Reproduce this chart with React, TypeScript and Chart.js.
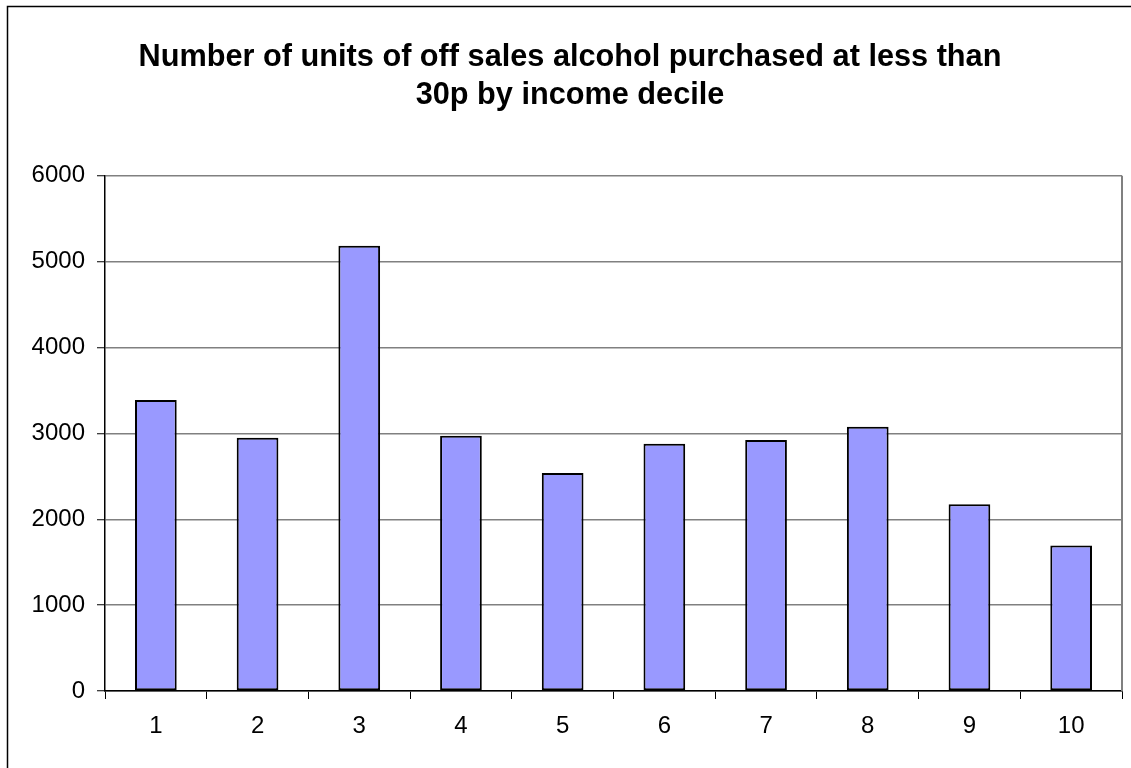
import React, { useEffect, useRef } from "react";
import { Chart, registerables } from "chart.js";

Chart.register(...registerables);

const categories = ["1", "2", "3", "4", "5", "6", "7", "8", "9", "10"];
const units = [3390, 2948, 5185, 2971, 2540, 2878, 2924, 3076, 2175, 1693];
const yTicks = [0, 1000, 2000, 3000, 4000, 5000, 6000];
const titleLines = [
  "Number of units of off sales alcohol purchased at less than",
  "30p by income decile",
];

const FONT = "'Liberation Sans', Arial, Helvetica, sans-serif";

const framePlugin = {
  id: "frame",
  beforeDraw(chart: any) {
    const { ctx } = chart;
    ctx.save();
    ctx.fillStyle = "#ffffff";
    ctx.fillRect(0, 0, chart.width, chart.height);
    ctx.strokeStyle = "#000000";
    ctx.lineWidth = 1.5;
    ctx.strokeRect(7.5, 6.5, chart.width + 20, chart.height + 20);
    ctx.restore();
  },
  afterDatasetsDraw(chart: any) {
    const { ctx, chartArea } = chart;
    ctx.save();
    ctx.strokeStyle = "#808080";
    ctx.lineWidth = 2;
    ctx.beginPath();
    ctx.moveTo(chartArea.right, chartArea.top);
    ctx.lineTo(chartArea.right, chartArea.bottom);
    ctx.stroke();
    ctx.restore();
  },
};

export default function App() {
  const ref = useRef<HTMLCanvasElement | null>(null);

  useEffect(() => {
    if (!ref.current) return;
    const chart = new Chart(ref.current, {
      type: "bar",
      data: {
        labels: categories,
        datasets: [
          {
            data: units,
            backgroundColor: "#9999FF",
            borderColor: "#000000",
            borderWidth: 2,
            borderSkipped: false,
            barPercentage: 0.41,
            categoryPercentage: 1,
          },
        ],
      },
      options: {
        animation: false,
        responsive: false,
        maintainAspectRatio: false,
        layout: { padding: { left: 18, right: 9, top: 0, bottom: 0 } },
        plugins: {
          legend: { display: false },
          tooltip: { enabled: false },
          title: {
            display: true,
            text: titleLines,
            color: "#000000",
            font: { family: FONT, size: 30.7, weight: "bold", lineHeight: 1.25 },
            padding: { top: 38, bottom: 61 },
          },
        },
        scales: {
          x: {
            offset: true,
            grid: {
              offset: true,
              drawOnChartArea: false,
              drawTicks: true,
              tickLength: 8,
              tickColor: "#000000",
              tickWidth: 1,
            },
            border: { display: true, color: "#000000", width: 1.5 },
            ticks: {
              color: "#000000",
              font: { family: FONT, size: 24 },
              padding: 13,
              maxRotation: 0,
            },
            afterFit: (scale: any) => {
              scale.height = 77;
            },
          },
          y: {
            min: 0,
            max: 6000,
            afterBuildTicks: (scale: any) => {
              scale.ticks = yTicks.map((v) => ({ value: v }));
            },
            grid: {
              color: "#808080",
              lineWidth: 1.5,
              drawTicks: true,
              tickLength: 8,
              tickColor: "#000000",
              tickWidth: 1,
            },
            border: { display: true, color: "#000000", width: 1.5 },
            ticks: {
              color: "#000000",
              font: { family: FONT, size: 24 },
              padding: 12,
              callback: (v: any) => String(v),
            },
            afterFit: (scale: any) => {
              scale.width = 87;
            },
          },
        },
      },
      plugins: [framePlugin],
    });
    return () => chart.destroy();
  }, []);

  return (
    <div style={{ position: "absolute", left: 0, top: 0, width: 1131, height: 768 }}>
      <canvas ref={ref} width={1131} height={768} style={{ display: "block" }} />
    </div>
  );
}
